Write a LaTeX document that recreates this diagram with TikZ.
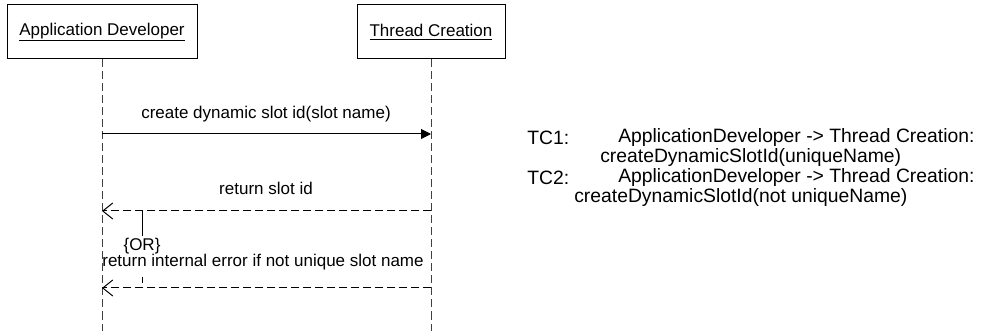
\documentclass[tikz,border=0pt]{standalone}
\usepackage{fontspec}
\setmainfont{Liberation Sans}
\usetikzlibrary{arrows.meta}
\begin{document}
\begin{tikzpicture}[x=0.75pt,y=-0.75pt,
  actor/.style={draw, line width=0.75pt, inner sep=0pt, minimum height=40.5pt, font=\fontsize{12.75}{15}\selectfont},
  life/.style={draw=black!75, line width=0.75pt, dash pattern=on 6pt off 3pt},
  call/.style={line width=0.75pt, -{Triangle[length=7.5pt,width=7.5pt]}},
  ret/.style={line width=0.75pt, dash pattern=on 6pt off 3pt, -{Straight Barb[length=7.5pt,width=12pt,line width=0.75pt]}},
  lbl/.style={font=\fontsize{12.75}{15}\selectfont, inner sep=0pt},
  tc/.style={font=\fontsize{14.5}{17}\selectfont, inner sep=0pt, anchor=west}]
\useasboundingbox (0,0) rectangle (985,331);
% actors
\node[actor, minimum width=142.5pt] (ad) at (102,32) {\underline{Application Developer}};
\node[actor, minimum width=111pt] (th) at (431,32) {\underline{Thread Creation}};
% lifelines
\coordinate (adend) at (102,331);
\coordinate (thend) at (431,331);
\draw[life] (ad.south) -- (adend);
\draw[life] (th.south) -- (thend);
% message points
\coordinate (m1a) at (102,134);
\coordinate (m1b) at (431,134);
\coordinate (m2a) at (431,211);
\coordinate (m2b) at (102,211);
\coordinate (m3a) at (431,288);
\coordinate (m3b) at (102,288);
\draw[call] (m1a) -- (m1b);
\draw[ret] (m2a) -- (m2b);
\draw[ret] (m3a) -- (m3b);
\node[lbl] (l1) at (266,114) {create dynamic slot id(slot name)};
\node[lbl] (l2) at (266,188) {return slot id};
% OR constraint
\coordinate (or1) at (142,211);
\coordinate (or2) at (142,288);
\coordinate (or3) at (142,236);
\coordinate (or4) at (142,277);
\node[lbl] (ortxt) at (142,246) {\{OR\}};
\node[lbl] (errtxt) at (263,262) {return internal error if not unique slot name};
\draw[line width=0.75pt] (or1) -- (or3);
\draw[line width=0.75pt, dash pattern=on 4.5pt off 10pt] (or4) -- (or2);
% test cases
\node[tc] (tc1) at (527,138) {TC1:};
\node[tc] (tc1a) at (618,138) {ApplicationDeveloper -> Thread Creation:};
\node[tc] (tc1b) at (600,158) {createDynamicSlotId(uniqueName)};
\node[tc] (tc2) at (527,178) {TC2:};
\node[tc] (tc2a) at (618,178) {ApplicationDeveloper -> Thread Creation:};
\node[tc] (tc2b) at (574,198) {createDynamicSlotId(not uniqueName)};
\end{tikzpicture}
\end{document}
